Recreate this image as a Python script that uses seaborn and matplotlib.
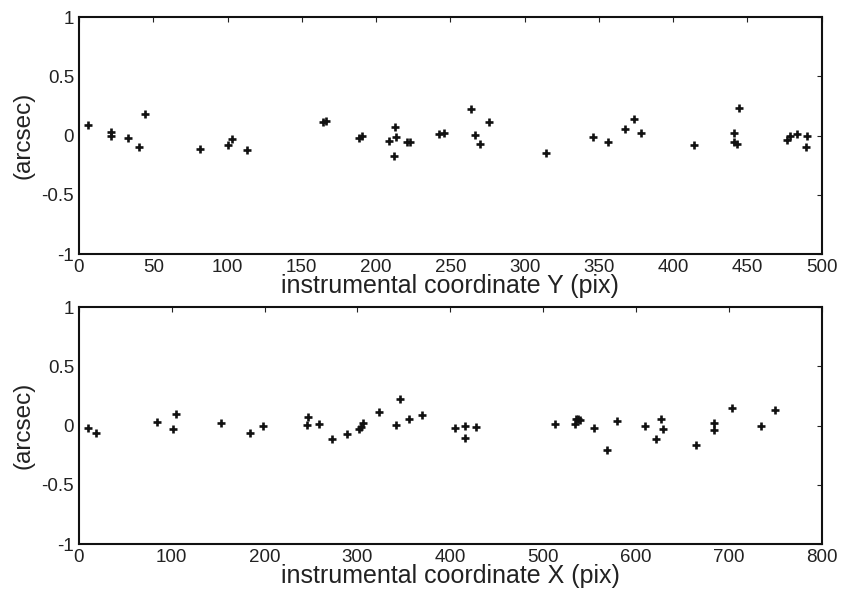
import pandas as pd
import matplotlib
matplotlib.use('Agg')
import matplotlib.pyplot as plt
import matplotlib.ticker as mticker
import seaborn as sns

# residuals vs instrumental coordinate Y (top panel)
y_coord = [5.9, 21.3, 21.3, 33, 40.6, 44.7, 81.3, 100.4, 103.3, 113.2,
           164, 166, 188.5, 190.7, 212.5, 208.7, 213.6, 212, 220.8, 223,
           242.6, 246, 263.7, 266.4, 276.3, 269.8, 314.7, 345.9, 356, 367.7,
           373.8, 378.7, 414.4, 444.3, 440.7, 441.2, 443, 477, 478.6, 483.2,
           489.9, 489.7]
y_resid = [0.089, 0.032, -0.002, -0.018, -0.10, 0.18, -0.117, -0.083, -0.03, -0.122,
           0.11, 0.125, -0.024, -0.002, 0.074, -0.046, -0.013, -0.173, -0.058, -0.058,
           0.013, 0.021, 0.226, 0.004, 0.117, -0.075, -0.148, -0.015, -0.058, 0.058,
           0.142, 0.021, -0.083, 0.23, 0.024, -0.055, -0.072, -0.038, -0.007, 0.015,
           -0.002, -0.097]

# residuals vs instrumental coordinate X (bottom panel)
x_coord = [9.4, 18.3, 84.4, 101, 104.9, 153.1, 184.7, 198, 245.5, 246.9,
           258.4, 272.8, 288.6, 301.9, 303.5, 306.2, 323.1, 341.8, 346.1, 355.1,
           369.5, 405, 416.2, 416.2, 428, 512.9, 534, 535.9, 537.7, 540.2,
           554.9, 569.3, 580, 609.2, 627.5, 628.9, 621.8, 665.2, 683.6, 684.3,
           703, 735, 749.3]
x_resid = [-0.018, -0.063, 0.032, -0.03, 0.097, 0.021, -0.066, -0.002, 0.002, 0.069,
           0.013, -0.114, -0.075, -0.027, -0.01, 0.018, 0.111, 0.007, 0.221, 0.052,
           0.089, -0.021, -0.007, -0.105, -0.015, 0.015, 0.013, 0.052, 0.057, 0.046,
           -0.018, -0.21, 0.038, -0.007, 0.052, -0.032, -0.114, -0.162, 0.018, -0.04,
           0.15, -0.007, 0.133]

sns.set_style('white')
plt.rcParams['font.family'] = ['Liberation Sans', 'DejaVu Sans']
plt.rcParams['axes.unicode_minus'] = False

top = pd.DataFrame({'coord': y_coord, 'resid': y_resid})
bot = pd.DataFrame({'coord': x_coord, 'resid': x_resid})

fig = plt.figure(figsize=(8.42, 5.91), dpi=100)
ax1 = fig.add_axes([0.0938, 0.5702, 0.882, 0.401])
ax2 = fig.add_axes([0.0938, 0.0795, 0.882, 0.401])

panels = [(ax1, top, 500, 50, 'instrumental coordinate Y (pix)'),
          (ax2, bot, 800, 100, 'instrumental coordinate X (pix)')]

def yfmt(v, pos):
    return '%g' % v

for ax, df, xmax, step, lab in panels:
    sns.scatterplot(data=df, x='coord', y='resid', ax=ax, marker='+',
                    color='#111111', s=28, linewidth=1.9)
    ax.set_xlim(0, xmax)
    ax.set_ylim(-1, 1)
    ax.set_xticks(range(0, xmax + 1, step))
    ax.set_yticks([-1, -0.5, 0, 0.5, 1])
    ax.yaxis.set_major_formatter(mticker.FuncFormatter(yfmt))
    ax.tick_params(direction='in', length=3.5, width=0.8, top=True, right=True,
                   labelsize=13.5, pad=3.5, colors='#222222')
    for sp in ax.spines.values():
        sp.set_linewidth(1.5)
        sp.set_color('#111111')
    ax.set_xlabel(lab, fontsize=18, labelpad=-1, color='#222222')
    ax.set_ylabel('(arcsec)', fontsize=17.5, labelpad=5, color='#222222')

fig.savefig('out.png', dpi=100)
